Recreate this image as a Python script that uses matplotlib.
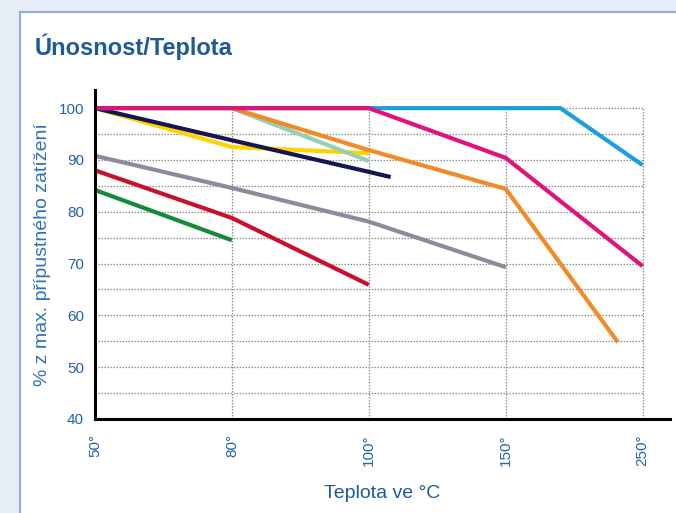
import matplotlib
matplotlib.use("Agg")
import matplotlib.pyplot as plt
from matplotlib.patches import Rectangle
import numpy as np

plt.rcParams['font.family'] = ['Liberation Sans', 'DejaVu Sans']

# osa X je kategoriální: 50°, 80°, 100°, 150°, 250° ve stejných rozestupech
tick_temps = [50, 80, 100, 150, 250]
tick_labels = ['50°', '80°', '100°', '150°', '250°']

# křivky (teplota °C, % z max. zatížení)
green_t = [50, 80]
green_v = [84.2, 74.5]
red_t = [50, 80, 100]
red_v = [88.0, 78.8, 65.9]
gray_t = [50, 80, 100, 150]
gray_v = [90.8, 84.6, 78.1, 69.3]
yellow_t = [50, 80, 100]
yellow_v = [100, 92.5, 91.3]
navy_t = [50, 80, 100, 108]
navy_v = [100, 93.8, 87.7, 86.7]
mint_t = [80, 100]
mint_v = [100, 89.8]
orange_t = [80, 100, 150, 232]
orange_v = [100, 91.9, 84.4, 54.8]
cyan_t = [50, 190, 250]
cyan_v = [100, 100, 89.0]
magenta_t = [50, 100, 150, 250]
magenta_v = [100, 100, 90.4, 69.5]

series = [
    (green_t, green_v, '#158a3c'),
    (red_t, red_v, '#c8102e'),
    (gray_t, gray_v, '#878d9a'),
    (yellow_t, yellow_v, '#ffd200'),
    (navy_t, navy_v, '#15164f'),
    (mint_t, mint_v, '#96cfb2'),
    (orange_t, orange_v, '#f28a26'),
    (cyan_t, cyan_v, '#1aa0dd'),
    (magenta_t, magenta_v, '#e0127b'),
]

tick_pos = np.arange(len(tick_temps))


def to_pos(t):
    return np.interp(t, tick_temps, tick_pos)


fig = plt.figure(figsize=(6.76, 5.13), dpi=100, facecolor='#e6edf5')

# bílý rámeček (pod osami)
frame = Rectangle((20 / 676, -0.01), 1.0, 1 - 12 / 513 + 0.01,
                  transform=fig.transFigure, facecolor='white',
                  edgecolor='#8fb1d6', linewidth=1.5, zorder=-5)
fig.add_artist(frame)

ax = fig.add_axes([95 / 676, 94 / 513, 575 / 676, 329 / 513])
ax.set_facecolor('none')
ax.set_xlim(0, 4.2)
ax.set_ylim(40, 103.5)

# mřížka jen do 250° a 100 %
grid_kw = dict(color='#8c8c8c', linestyle=(0, (1.2, 1.2)), linewidth=0.9, zorder=1)
ax.hlines(np.arange(45, 101, 5), 0, tick_pos[-1], **grid_kw)
ax.vlines(tick_pos[1:], 40, 100, **grid_kw)

for t, v, c in series:
    ax.plot(to_pos(t), v, color=c, linewidth=3.0, solid_capstyle='butt', zorder=3)

for s in ['top', 'right']:
    ax.spines[s].set_visible(False)
for s in ['left', 'bottom']:
    ax.spines[s].set_linewidth(2.2)
    ax.spines[s].set_color('black')
    ax.spines[s].set_zorder(4)

ax.set_yticks(np.arange(40, 101, 10))
ax.set_xticks(tick_pos)
ax.set_xticklabels(tick_labels, rotation=90)
ax.tick_params(axis='y', length=0, pad=8, labelsize=11, labelcolor='#2262a6')
ax.tick_params(axis='x', length=0, pad=11, labelsize=11, labelcolor='#2262a6')

ax.set_ylabel('% z max. přípustného zatížení', fontsize=14, color='#2d72b8', labelpad=5)
ax.set_xlabel('Teplota ve °C', fontsize=14, color='#1d5a9c', labelpad=14)

fig.text(35 / 676, 1 - 55 / 513, 'Únosnost/Teplota', fontsize=17, fontweight='bold',
         color='#1f5a97', va='baseline', ha='left')

fig.savefig('out.png', dpi=100, facecolor=fig.get_facecolor())
